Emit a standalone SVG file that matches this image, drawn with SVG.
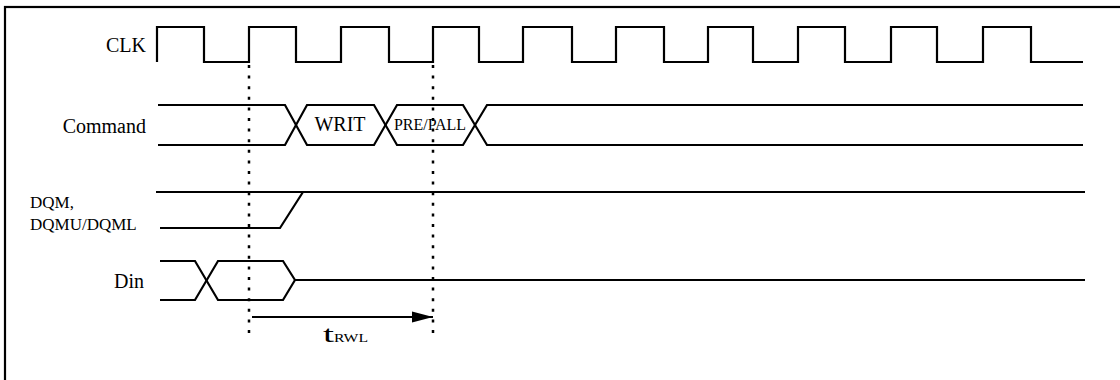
<svg xmlns="http://www.w3.org/2000/svg" width="1120" height="380" viewBox="0 0 1120 380">
<style>
.sig{fill:none;stroke:#000;stroke-width:2.2;stroke-linejoin:miter}
.dot{fill:none;stroke:#000;stroke-width:2.5;stroke-dasharray:3 7.6}
.lbl{font-family:"Liberation Serif","Times New Roman",serif;fill:#000}
</style>
<defs>
<marker id="ah" markerWidth="21" markerHeight="12" refX="21" refY="6" orient="auto" markerUnits="userSpaceOnUse">
<polygon points="0,0.5 21,6 0,11.5" fill="#000"/>
</marker>
</defs>
<rect x="5" y="7" width="1200" height="400" fill="#fff" stroke="#000" stroke-width="2.2"/>
<g id="clk">
<text class="lbl" x="146" y="52" font-size="20" text-anchor="end">CLK</text>
<path class="sig" d="M157,62 V27 H204 V62 H249 V27 H296 V62 H341 V27 H389 V62 H433 V27 H479 V62 H523 V27 H572 V62 H616 V27 H664 V62 H708 V27 H753 V62 H798 V27 H845 V62 H891 V27 H937 V62 H983 V27 H1031 V62 H1083"/>
</g>
<g id="command">
<text class="lbl" x="146" y="133" font-size="20" text-anchor="end">Command</text>
<path class="sig" d="M158,105 H285 L307,145 H374 L397,105 H463 L487,145 H1083"/>
<path class="sig" d="M158,145 H285 L307,105 H374 L397,145 H463 L487,105 H1083"/>
<text class="lbl" x="340" y="131" font-size="20" text-anchor="middle">WRIT</text>
<text class="lbl" x="430" y="130" font-size="16" text-anchor="middle" textLength="72" lengthAdjust="spacingAndGlyphs">PRE/PALL</text>
</g>
<g id="dqm">
<text class="lbl" x="30" y="208" font-size="17">DQM,</text>
<text class="lbl" x="30" y="230" font-size="17">DQMU/DQML</text>
<path class="sig" d="M156,192 H1085"/>
<path class="sig" d="M160,228 H280 L303,192"/>
</g>
<g id="din">
<text class="lbl" x="144" y="288" font-size="20" text-anchor="end">Din</text>
<path class="sig" d="M160,261 H195 L218,300 H283 L295,280 H1085"/>
<path class="sig" d="M160,300 H195 L218,261 H283 L295,280"/>
</g>
<g id="connectors">
<line class="dot" x1="249" y1="65" x2="249" y2="336"/>
<line class="dot" x1="433" y1="65" x2="433" y2="336"/>
<line x1="252" y1="317" x2="433" y2="317" stroke="#000" stroke-width="2.2" marker-end="url(#ah)"/>
</g>
<g id="trwl">
<text class="lbl" x="323" y="342" font-size="24" textLength="11" lengthAdjust="spacingAndGlyphs">t</text>
<text class="lbl" x="334" y="342" font-size="13" textLength="34" lengthAdjust="spacingAndGlyphs">RWL</text>
</g>
</svg>
